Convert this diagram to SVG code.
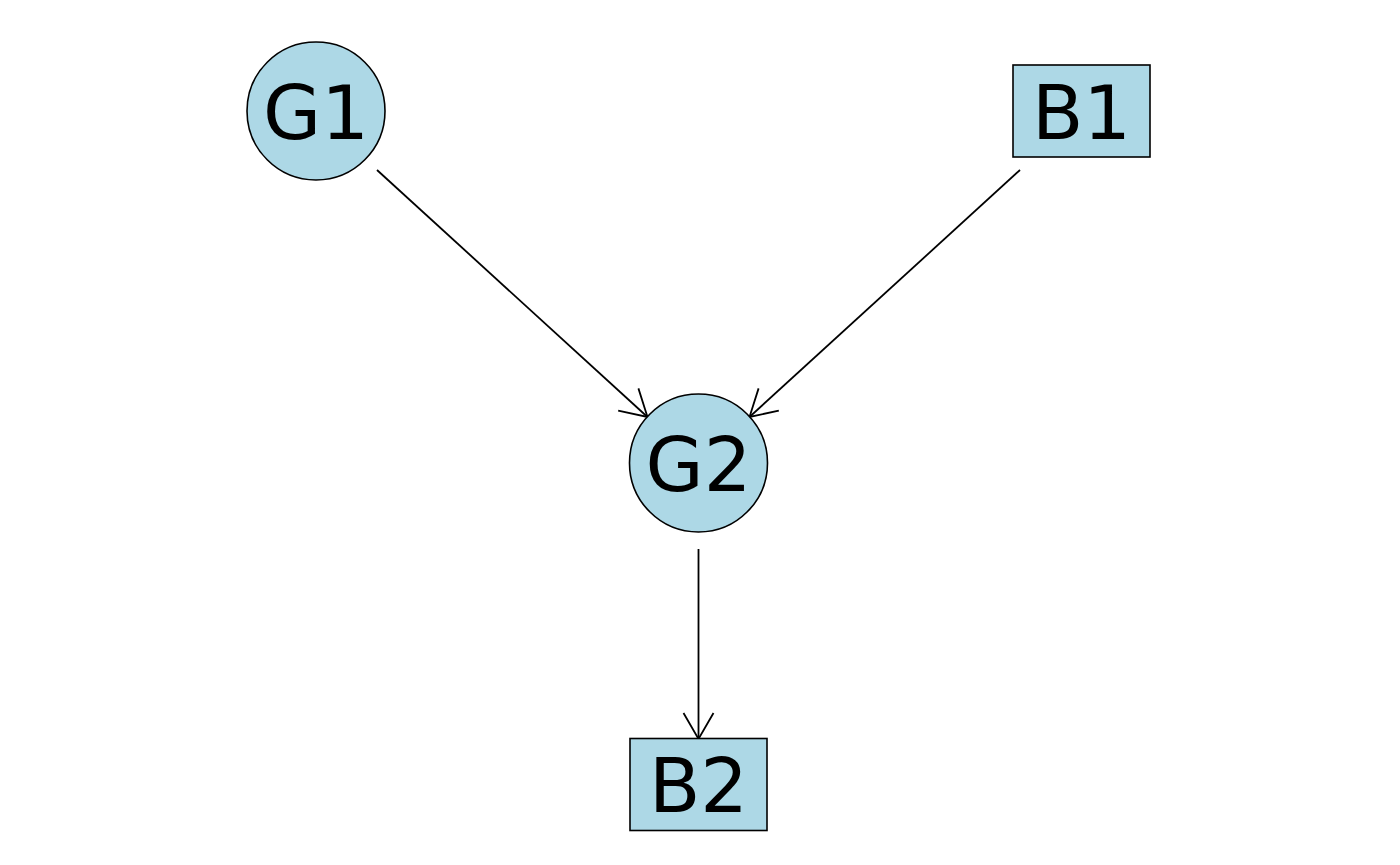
<svg xmlns="http://www.w3.org/2000/svg" width="1400" height="865" viewBox="0 0 1400 865">
<style>
.n{fill:#ADD8E6;stroke:#000;stroke-width:1.6}
.t{font-family:"DejaVu Sans",sans-serif;font-size:75px;text-anchor:middle;fill:#000}
.e{stroke:#000;stroke-width:1.8;fill:none;marker-end:url(#a)}
</style>
<defs>
<marker id="a" markerUnits="userSpaceOnUse" orient="auto" markerWidth="40" markerHeight="40" refX="0" refY="0" viewBox="-30 -20 40 40" overflow="visible">
<path d="M-26,-15 L0,0 L-26,15" fill="none" stroke="#000" stroke-width="1.8"/>
</marker>
</defs>
<rect width="1400" height="865" fill="#fff"/>
<g id="edges">
<line class="e" x1="377" y1="170" x2="647.5" y2="417"/>
<line class="e" x1="1020" y1="170" x2="749.5" y2="417"/>
<line class="e" x1="698.5" y1="549" x2="698.5" y2="739"/>
</g>
<g id="G1"><circle class="n" cx="316" cy="111" r="69"/><text class="t" x="316" y="138.5">G1</text></g>
<g id="B1"><rect class="n" x="1013" y="65" width="137" height="92"/><text class="t" x="1081.5" y="138.5">B1</text></g>
<g id="G2"><circle class="n" cx="698.5" cy="463" r="69"/><text class="t" x="698.5" y="490.5">G2</text></g>
<g id="B2"><rect class="n" x="630" y="738.5" width="137" height="92"/><text class="t" x="698.5" y="811.5">B2</text></g>
</svg>
